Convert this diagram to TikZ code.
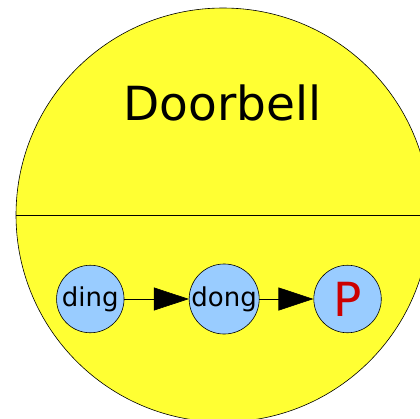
\documentclass[tikz,border=0pt]{standalone}
\usepackage{fontspec}
\setmainfont{DejaVu Sans}
\usetikzlibrary{arrows.meta,positioning}
\definecolor{bellyellow}{RGB}{255,255,51}
\definecolor{soundblue}{RGB}{153,204,255}
\definecolor{pred}{RGB}{204,0,0}
\begin{document}
\begin{tikzpicture}[x=1bp,y=-1bp,line width=0.6bp,
  sound/.style={circle,draw,fill=soundblue,minimum size=67.5bp,inner sep=0pt,font=\fontsize{26bp}{30bp}\selectfont},
  ring/.style={-{Triangle[length=35bp,width=23bp]}}]
\useasboundingbox (0,0) rectangle (420,419);
\clip (0,0) rectangle (420,419);
\draw[fill=bellyellow] (223,215) circle (207);
\draw (16,215) -- (430,215);
\node[anchor=base] (bell) at (222.5,120) {\fontsize{47bp}{56bp}\selectfont Doorbell};
\node[sound] (ding) at (90.3,299) {ding};
\node[sound,right=64.5bp of ding] (dong) {dong};
\node[sound,right=54bp of dong,text=pred,font=\fontsize{47bp}{56bp}\selectfont] (p) {P};
\draw[ring] (ding) -- (dong);
\draw[ring] (dong) -- (p);
\end{tikzpicture}
\end{document}
